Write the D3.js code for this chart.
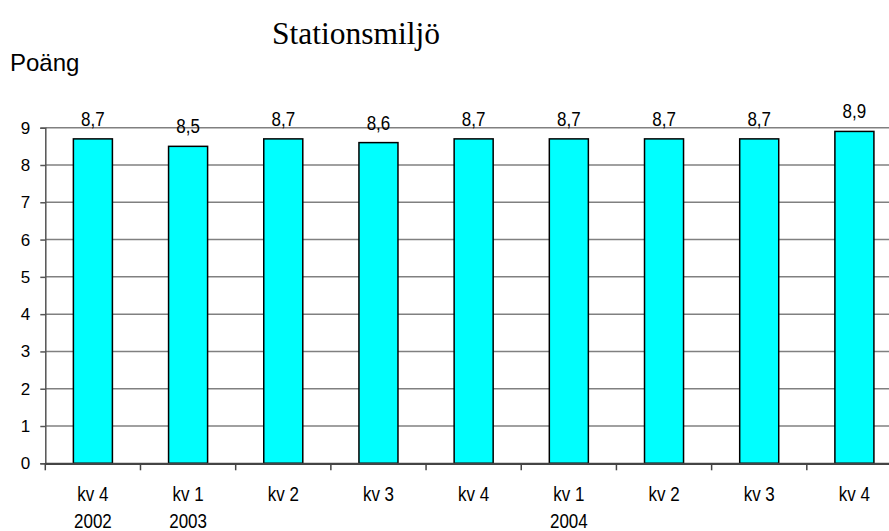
<!DOCTYPE html>
<html><head><meta charset="utf-8">
<script src="https://cdn.jsdelivr.net/npm/d3@7"></script>
<style>html,body{margin:0;padding:0;background:#fff;overflow:hidden}</style>
</head><body>
<svg id="chart" width="889" height="531"></svg>
<script>
const categories = ["kv 4|2002","kv 1|2003","kv 2|","kv 3|","kv 4|","kv 1|2004","kv 2|","kv 3|","kv 4|"];
const values = [8.7, 8.5, 8.7, 8.6, 8.7, 8.7, 8.7, 8.7, 8.9];
const yTicks = [0,1,2,3,4,5,6,7,8,9];
const title = "Stationsmiljö";
const yTitle = "Poäng";

const svg = d3.select("#chart");
const pLeft = 45.3, pRight = 902, pTop = 127.7, pBottom = 463.3;
const x = d3.scaleBand().domain(d3.range(categories.length)).range([pLeft, pRight]).padding(0);
const y = d3.scaleLinear().domain([0, 9]).range([pBottom, pTop]);
const barW = x.bandwidth() * 0.41;
const sans = "Arial, 'Liberation Sans', Helvetica, sans-serif";

// gridlines
svg.append("g").selectAll("line").data(yTicks.filter(d => d > 0)).join("line")
  .attr("x1", pLeft).attr("x2", pRight)
  .attr("y1", d => y(d)).attr("y2", d => y(d))
  .attr("stroke", "#808080").attr("stroke-width", 1.5);

// y axis
const ya = svg.append("g").attr("transform", `translate(${pLeft},0)`)
  .call(d3.axisLeft(y).tickValues(yTicks).tickSize(5).tickPadding(10).tickFormat(d3.format("d")));
ya.select(".domain").attr("stroke", "#555").attr("stroke-width", 1.5);
ya.selectAll(".tick line").attr("stroke", "#555").attr("stroke-width", 1.5);
ya.selectAll(".tick text").attr("font-family", sans).attr("font-size", 17).attr("fill", "#000");

// bars
svg.append("g").selectAll("rect").data(values).join("rect")
  .attr("x", (d, i) => x(i) + (x.bandwidth() - barW) / 2)
  .attr("width", barW)
  .attr("y", d => y(d))
  .attr("height", d => y(0) - y(d))
  .attr("fill", "#00FFFF").attr("stroke", "#000").attr("stroke-width", 1.5);

// x axis
const xa = svg.append("g").attr("transform", `translate(0,${pBottom})`)
  .call(d3.axisBottom(x).tickSize(0).tickFormat(""));
xa.select(".domain").attr("stroke", "#444").attr("stroke-width", 2.2);
xa.selectAll(".tick").remove();
svg.append("g").selectAll("line").data(d3.range(categories.length)).join("line")
  .attr("x1", i => x(i)).attr("x2", i => x(i))
  .attr("y1", pBottom).attr("y2", pBottom + 7)
  .attr("stroke", "#444").attr("stroke-width", 1.5);

// x labels
const sy = 1.15;
const lbl = svg.append("g").selectAll("g").data(categories).join("g")
  .attr("transform", (d, i) => `translate(${x(i) + x.bandwidth()/2},0)`);
lbl.append("text").text(d => d.split("|")[0])
  .attr("transform", `translate(0,501) scale(1,${sy})`)
  .attr("text-anchor", "middle").attr("font-family", sans).attr("font-size", 17);
lbl.append("text").text(d => d.split("|")[1])
  .attr("transform", `translate(0,528) scale(1,${sy})`)
  .attr("text-anchor", "middle").attr("font-family", sans).attr("font-size", 17);

// value labels
svg.append("g").selectAll("text").data(values).join("text")
  .text(d => d3.format(".1f")(d).replace(".", ","))
  .attr("transform", (d, i) => `translate(${x(i) + x.bandwidth()/2},${y(d) - 13}) scale(1,${sy})`)
  .attr("text-anchor", "middle").attr("font-family", sans).attr("font-size", 17);

// titles
svg.append("text").text(title).attr("x", 272).attr("y", 44)
  .attr("font-family", "'Times New Roman', 'Liberation Serif', serif").attr("font-size", 31.5);
svg.append("text").text(yTitle).attr("x", 10).attr("y", 71)
  .attr("font-family", sans).attr("font-size", 24);
</script>
</body></html>
